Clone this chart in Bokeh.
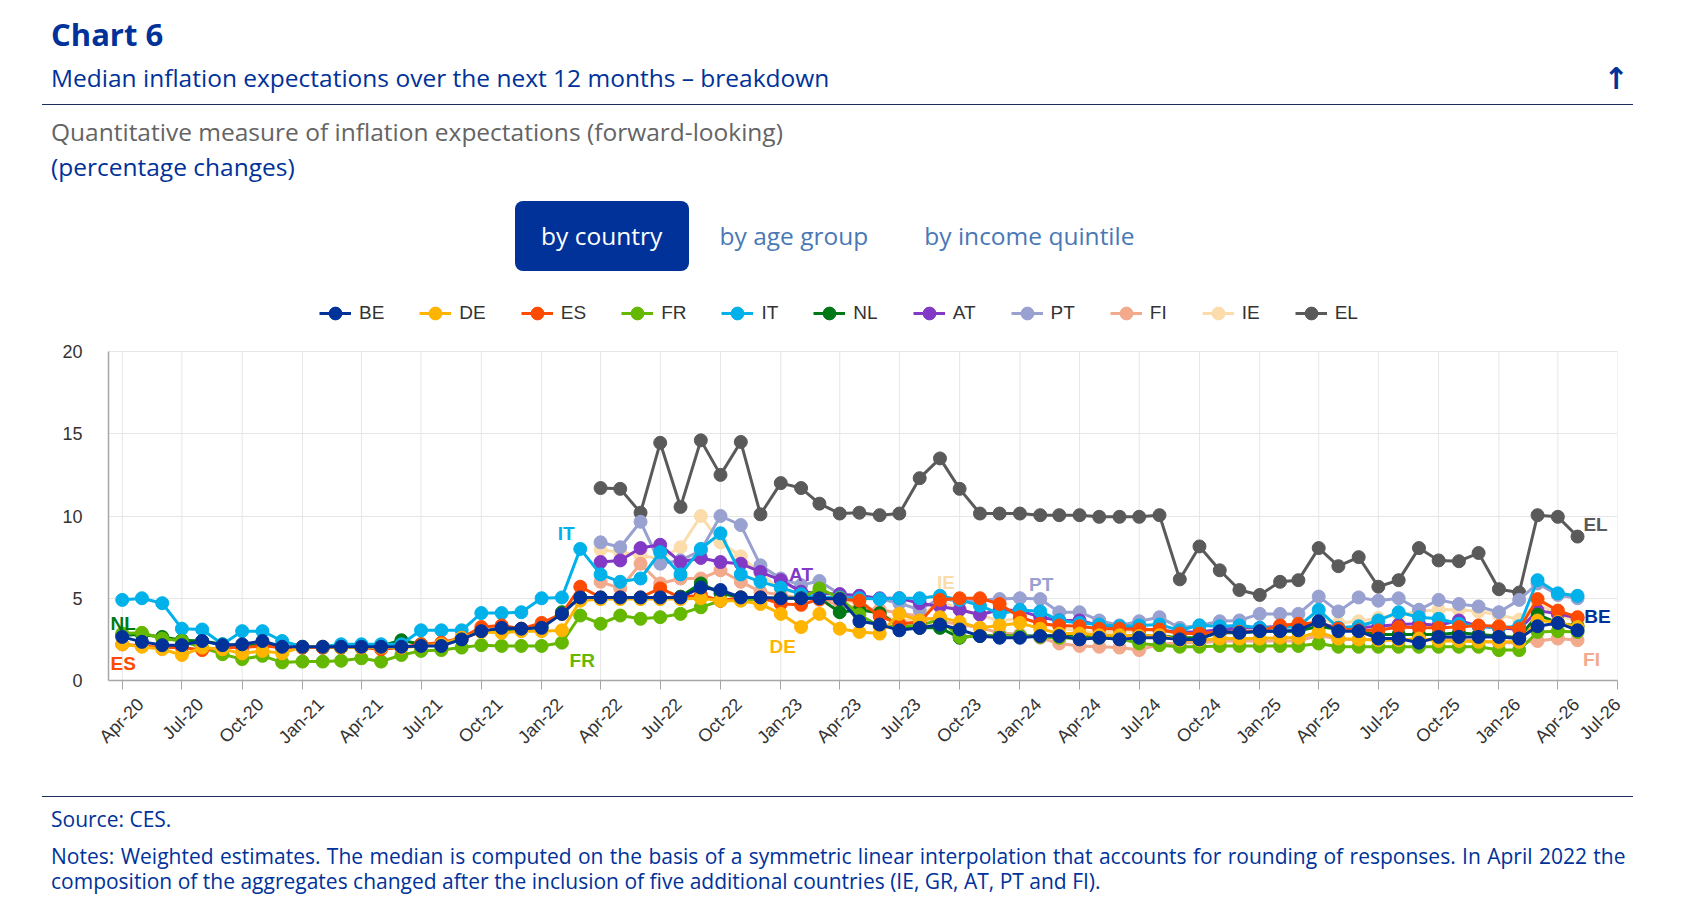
import math
import html
import pandas as pd
from bokeh.plotting import figure
from bokeh.layouts import column
from bokeh.models import (Label, Legend, LegendItem, FixedTicker, Range1d, Div,
                          CustomJSTickFormatter, DatetimeAxis, DatetimeTickFormatter)
from bokeh.embed import file_html
from bokeh.resources import INLINE

# ---------------- data ----------------
COUNTRIES = ["BE", "DE", "ES", "FR", "IT", "NL", "AT", "PT", "FI", "IE", "EL"]
COLORS = ["#003299", "#ffb400", "#ff4b00", "#65b800", "#00b1ea", "#007816",
          "#8139c6", "#98a1d0", "#f3a98b", "#fbdcaa", "#5a5a5a"]

FIRST_MONTH = "2020-04-01"   # BE, DE, ES, FR, IT, NL
ADDED_MONTH = "2022-04-01"   # AT, PT, FI, IE, EL

BE = [2.65, 2.35, 2.15, 2.15, 2.4, 2.15, 2.2, 2.4, 2.05, 2.05,
      2.05, 2.05, 2.05, 2.05, 2.05, 2.1, 2.1, 2.5, 3.0, 3.2,
      3.15, 3.2, 4.05, 5.05, 5.05, 5.05, 5.05, 5.05, 5.05, 5.65,
      5.5, 5.05, 5.05, 5.0, 5.0, 5.0, 4.95, 3.6, 3.4, 3.05,
      3.2, 3.4, 3.1, 2.7, 2.6, 2.6, 2.7, 2.7, 2.5, 2.6,
      2.5, 2.6, 2.6, 2.5, 2.5, 3.0, 2.9, 3.0, 3.0, 3.05,
      3.6, 3.0, 3.0, 2.55, 2.55, 2.3, 2.65, 2.65, 2.65, 2.65,
      2.55, 3.3, 3.5, 3.05]
DE = [2.2, 2.05, 1.9, 1.55, 2.0, 1.9, 1.65, 1.8, 1.65, 2.05,
      2.05, 2.0, 2.0, 2.0, 2.0, 2.1, 2.2, 2.6, 2.95, 2.9,
      3.0, 3.0, 3.05, 4.85, 4.95, 4.95, 4.95, 4.95, 4.95, 5.0,
      4.85, 4.85, 4.65, 4.05, 3.25, 4.05, 3.15, 2.95, 2.85, 4.05,
      3.65, 3.85, 3.55, 3.2, 3.35, 3.5, 3.15, 2.85, 2.85, 2.75,
      2.75, 2.7, 2.75, 2.45, 2.45, 2.55, 2.55, 2.55, 2.6, 2.6,
      2.95, 2.55, 2.5, 2.45, 2.45, 2.55, 2.4, 2.4, 2.35, 2.35,
      2.35, 3.65, 3.55, 3.25]
ES = [2.2, 2.1, 2.0, 2.0, 1.85, 2.0, 2.0, 2.1, 2.0, 2.0,
      2.0, 2.0, 2.0, 1.9, 2.0, 2.2, 2.3, 2.6, 3.25, 3.35,
      3.15, 3.5, 4.05, 5.7, 5.05, 5.05, 5.05, 5.6, 5.05, 5.2,
      4.85, 5.05, 5.05, 4.65, 4.6, 4.95, 4.95, 4.85, 3.9, 3.45,
      3.55, 4.9, 5.0, 5.0, 4.65, 3.85, 3.45, 3.35, 3.3, 3.15,
      3.15, 3.1, 3.1, 2.85, 2.85, 2.95, 2.95, 3.0, 3.35, 3.45,
      3.5, 3.15, 3.05, 3.05, 3.25, 3.2, 3.2, 3.25, 3.35, 3.3,
      3.15, 4.95, 4.25, 3.85]
FR = [2.85, 2.9, 2.55, 2.4, 2.0, 1.6, 1.3, 1.5, 1.1, 1.15,
      1.15, 1.2, 1.35, 1.15, 1.55, 1.8, 1.85, 2.0, 2.15, 2.1,
      2.1, 2.1, 2.3, 3.95, 3.45, 3.95, 3.75, 3.85, 4.05, 4.45,
      4.85, 4.9, 4.95, 5.0, 5.0, 5.6, 5.0, 4.0, 3.3, 3.3,
      3.35, 3.7, 2.65, 2.7, 2.7, 2.7, 2.65, 2.6, 2.55, 2.6,
      2.55, 2.25, 2.15, 2.05, 2.05, 2.1, 2.1, 2.1, 2.1, 2.1,
      2.25, 2.05, 2.05, 2.05, 2.05, 2.05, 2.05, 2.05, 2.05, 1.85,
      1.85, 2.95, 3.0, 2.95]
IT = [4.9, 5.0, 4.7, 3.15, 3.1, 2.2, 3.0, 3.0, 2.4, 2.05,
      2.05, 2.2, 2.2, 2.2, 2.2, 3.05, 3.05, 3.05, 4.1, 4.1,
      4.15, 5.0, 5.05, 8.0, 6.45, 6.0, 6.2, 7.8, 6.45, 8.0,
      8.95, 6.45, 6.0, 5.65, 5.25, 5.05, 5.05, 5.0, 4.95, 5.0,
      5.0, 5.15, 4.9, 4.55, 4.05, 4.3, 4.2, 3.65, 3.5, 3.4,
      3.3, 3.35, 3.4, 3.05, 3.35, 3.3, 3.35, 3.2, 3.2, 3.3,
      4.3, 3.2, 3.3, 3.65, 4.15, 3.85, 3.75, 3.45, 3.3, 3.2,
      3.3, 6.1, 5.3, 5.15]
NL = [2.75, 2.8, 2.65, 2.45, 2.4, 2.2, 2.1, 2.2, 2.0, 2.0,
      2.0, 2.0, 2.0, 2.1, 2.45, 2.2, 2.2, 2.55, 3.0, 3.1,
      3.1, 3.3, 4.15, 5.05, 5.0, 5.0, 5.0, 5.0, 5.1, 5.9,
      5.3, 5.05, 5.0, 5.0, 5.0, 5.0, 4.15, 4.3, 4.1, 3.3,
      3.2, 3.2, 2.6, 2.75, 2.7, 2.7, 2.7, 2.75, 2.75, 2.7,
      2.7, 2.75, 2.7, 2.6, 2.6, 2.9, 2.9, 3.0, 3.0, 3.0,
      3.3, 3.1, 3.0, 2.8, 2.8, 2.8, 2.8, 2.9, 2.8, 2.7,
      2.6, 4.0, 3.5, 3.3]
AT = [7.2, 7.3, 8.05, 8.25, 7.2, 7.45, 7.2, 7.1, 6.6, 6.1,
      5.4, 5.3, 5.25, 5.15, 5.0, 5.0, 4.7, 4.5, 4.3, 4.0,
      4.3, 4.25, 3.85, 3.65, 3.65, 3.35, 3.25, 3.15, 3.05, 2.95,
      2.95, 3.1, 3.2, 3.2, 3.3, 3.3, 3.5, 3.2, 3.2, 3.3,
      3.4, 3.45, 3.35, 3.65, 3.3, 3.2, 3.1, 4.25, 4.05, 3.8]
PT = [8.4, 8.1, 9.65, 7.1, 7.3, 7.9, 10.0, 9.45, 7.0, 6.2,
      5.8, 6.05, 5.25, 5.15, 4.95, 4.7, 4.3, 5.0, 4.8, 4.9,
      4.95, 5.0, 4.95, 4.15, 4.15, 3.65, 3.35, 3.6, 3.85, 3.2,
      3.35, 3.6, 3.65, 4.05, 4.05, 4.05, 5.1, 4.2, 5.05, 4.85,
      5.0, 4.3, 4.9, 4.65, 4.5, 4.15, 4.9, 5.9, 5.2, 5.0]
FI = [6.0, 5.6, 7.1, 5.9, 6.2, 6.2, 6.7, 6.0, 5.4, 5.2,
      5.0, 4.9, 4.6, 4.4, 4.3, 4.1, 3.9, 3.6, 3.4, 3.2,
      2.9, 2.8, 2.6, 2.25, 2.1, 2.05, 2.0, 1.85, 2.2, 2.3,
      2.3, 2.4, 2.4, 2.4, 2.4, 2.4, 2.75, 2.5, 2.5, 2.5,
      2.5, 2.5, 2.5, 2.5, 2.4, 2.3, 2.3, 2.4, 2.55, 2.45]
IE = [7.95, 7.8, 7.6, 7.4, 8.1, 10.0, 8.4, 7.55, 6.5, 5.5,
      5.3, 5.1, 5.0, 4.6, 4.0, 3.6, 3.8, 4.9, 4.3, 4.0,
      3.6, 3.8, 3.5, 3.2, 3.0, 2.9, 3.0, 3.0, 3.1, 2.8,
      2.9, 3.0, 3.0, 3.1, 3.2, 3.3, 3.7, 3.5, 3.6, 3.8,
      4.0, 4.2, 4.3, 4.3, 4.2, 4.0, 3.7, 4.7, 4.0, 3.6]
EL = [11.7, 11.65, 10.2, 14.45, 10.55, 14.6, 12.5, 14.5, 10.1, 12.0,
      11.7, 10.75, 10.15, 10.2, 10.05, 10.15, 12.3, 13.5, 11.65, 10.15,
      10.15, 10.15, 10.05, 10.05, 10.05, 9.95, 9.95, 9.95, 10.05, 6.15,
      8.15, 6.7, 5.5, 5.2, 6.0, 6.1, 8.05, 6.95, 7.5, 5.7,
      6.1, 8.05, 7.3, 7.25, 7.75, 5.55, 5.35, 10.05, 9.95, 8.75]

SERIES = {"BE": BE, "DE": DE, "ES": ES, "FR": FR, "IT": IT, "NL": NL,
          "AT": AT, "PT": PT, "FI": FI, "IE": IE, "EL": EL}
STARTS = {c: (FIRST_MONTH if c in ("BE", "DE", "ES", "FR", "IT", "NL") else ADDED_MONTH)
          for c in COUNTRIES}

TICK_LABELS = ["Apr-20", "Jul-20", "Oct-20", "Jan-21", "Apr-21", "Jul-21", "Oct-21",
               "Jan-22", "Apr-22", "Jul-22", "Oct-22", "Jan-23", "Apr-23", "Jul-23",
               "Oct-23", "Jan-24", "Apr-24", "Jul-24", "Oct-24", "Jan-25", "Apr-25",
               "Jul-25", "Oct-25", "Jan-26", "Apr-26", "Jul-26"]
Y_TICKS = [0, 5, 10, 15, 20]

# in-chart series labels: (series, month, dx px, dy px down)
SERIES_LABELS = [("NL", "2020-04-01", 1, -12), ("ES", "2020-04-01", 1, 19),
                 ("IT", "2022-03-01", -14, -15), ("FR", "2022-03-01", 2, 45),
                 ("DE", "2023-01-01", 2, 33), ("AT", "2023-02-01", 0, -17),
                 ("IE", "2023-09-01", 6, -17), ("PT", "2024-02-01", 1, -15),
                 ("EL", "2026-05-01", 18, -12), ("BE", "2026-05-01", 20, -14),
                 ("FI", "2026-05-01", 14, 19)]

TITLE = "Chart 6"
SUBTITLE = "Median inflation expectations over the next 12 months \u2013 breakdown"
MEASURE = "Quantitative measure of inflation expectations (forward-looking)"
UNIT = "(percentage changes)"
TABS = ["by country", "by age group", "by income quintile"]
SOURCE = "Source: CES."
NOTES = ["Notes: Weighted estimates. The median is computed on the basis of a symmetric linear "
         "interpolation that accounts for rounding of responses. In April 2022 the",
         "composition of the aggregates changed after the inclusion of five additional "
         "countries (IE, GR, AT, PT and FI)."]

# ---------------- geometry (page px) ----------------
W = 1690
HEAD_H = 296                       # page 0 .. 296
FRAME_TOP, FRAME_BOTTOM = 296, 680
BOT_B = 80
CHART_H = (FRAME_BOTTOM - FRAME_TOP) + BOT_B   # page 296 .. 760
FOOT_H = 156                       # page 760 .. 916
FL, FR_EDGE = 108, 1617
BLUE = "#003299"
TAB_BLUE = "#4a78b5"
GREY_TXT = "#333333"
PX_PER_UNIT = (FRAME_BOTTOM - 351) / 20.0


def ms(t):
    return pd.Timestamp(t).value / 1e6


X0, X1 = ms("2020-03-11"), ms("2026-07-01")


# ---------------- HTML header / footer ----------------
def span(t, left, baseline, size, color, weight="normal", font="'Open Sans'",
         asc=0.888, width=None, align="left", extra=""):
    top = baseline - asc * size
    st = (f"position:absolute;left:{left}px;top:{top:.1f}px;font-family:{font};"
          f"font-size:{size}px;line-height:{size}px;font-weight:{weight};color:{color};"
          f"white-space:nowrap;{extra}")
    if width is not None:
        st += f"width:{width}px;text-align:{align};"
    return f'<span style="{st}">{html.escape(t)}</span>'


def rect(left, top, width, height, color, radius=0):
    return (f'<div style="position:absolute;left:{left}px;top:{top}px;width:{width}px;'
            f'height:{height}px;background:{color};border-radius:{radius}px;"></div>')


def panel(parts, height):
    body = "".join(parts)
    return Div(text=f'<div style="position:relative;width:{W}px;height:{height}px;'
                    f'overflow:hidden;">{body}</div>',
               width=W, height=height, margin=(0, 0, 0, 0))


head = panel([
    span(TITLE, 51, 46.7, 31, BLUE, weight="bold"),
    span(SUBTITLE, 51, 87.3, 24.5, BLUE),
    span("\u2191", 1566, 89, 30, BLUE, weight="bold", font="'DejaVu Sans'", asc=0.846,
         width=100, align="center"),
    rect(42, 103.5, 1591, 1.5, "#1d2d5c"),
    span(MEASURE, 51, 142, 24.5, "#646464"),
    span(UNIT, 51, 176.7, 24.5, BLUE),
    rect(515, 201, 173.5, 69.5, BLUE, radius=8),
    span(TABS[0], 501.7, 246, 24.5, "white", width=200, align="center"),
    span(TABS[1], 719.5, 246, 24.5, TAB_BLUE),
    span(TABS[2], 924.3, 246, 24.5, TAB_BLUE),
], HEAD_H)

FT = FRAME_TOP + CHART_H
foot = panel([
    rect(42, 795.5 - FT, 1591, 1.5, "#1d2d5c"),
    span(SOURCE, 51, 828 - FT, 21, BLUE),
    span(NOTES[0], 51, 864.5 - FT, 21, BLUE, extra="word-spacing:0.95px;"),
    span(NOTES[1], 51, 889.5 - FT, 21, BLUE),
], FOOT_H)

# ---------------- chart ----------------
p = figure(width=W, height=CHART_H, x_axis_type="datetime",
           x_range=Range1d(X0, X1),
           y_range=Range1d(0, (FRAME_BOTTOM - FRAME_TOP) / PX_PER_UNIT),
           output_backend="svg", toolbar_location=None,
           min_border_left=FL, min_border_right=W - FR_EDGE,
           min_border_top=0, min_border_bottom=BOT_B, margin=(0, 0, 0, 0))
p.outline_line_color = None
p.background_fill_color = "white"
p.border_fill_color = "white"

tick_dates = [pd.to_datetime(t, format="%b-%y") for t in TICK_LABELS]
tick_ms = [ms(t) for t in tick_dates]

main_ax = p.xaxis[0]
main_ax.ticker = FixedTicker(ticks=tick_ms)
main_ax.formatter = CustomJSTickFormatter(code="return ''")
main_ax.major_label_text_font_size = "0px"
main_ax.major_label_standoff = 0
main_ax.major_tick_out = 9
main_ax.major_tick_in = 0
main_ax.minor_tick_line_color = None
main_ax.axis_line_color = "#a6a6a6"
main_ax.major_tick_line_color = "#a6a6a6"
main_ax.axis_line_width = 1.5

# tick-label axis: labels are right-anchored by Bokeh, so its ticks sit a few days
# after each quarter so the slanted label is centred under the real tick
label_ticks = [ms(t + pd.Timedelta(days=28)) for t in tick_dates[:-1]] + [tick_ms[-1]]
lab_ax = DatetimeAxis(ticker=FixedTicker(ticks=label_ticks),
                      formatter=DatetimeTickFormatter(days="%b-%y", months="%b-%y",
                                                      years="%b-%y"),
                      major_label_orientation=math.pi / 4,
                      major_label_standoff=12,
                      major_label_text_font="Liberation Sans",
                      major_label_text_font_size="18px",
                      major_label_text_color=GREY_TXT,
                      axis_line_color=None, major_tick_line_color=None,
                      minor_tick_line_color=None, major_tick_out=0, major_tick_in=0)
p.add_layout(lab_ax, "below")

p.yaxis.ticker = FixedTicker(ticks=Y_TICKS)
p.yaxis.bounds = (0, 20)
p.yaxis.major_tick_out = 0
p.yaxis.major_tick_in = 0
p.yaxis.minor_tick_line_color = None
p.yaxis.axis_line_color = "#a6a6a6"
p.yaxis.axis_line_width = 1.5
p.yaxis.major_label_standoff = 26
p.yaxis.major_label_text_font = "Liberation Sans"
p.yaxis.major_label_text_font_size = "18px"
p.yaxis.major_label_text_color = GREY_TXT

p.xgrid.visible = False
p.ygrid.grid_line_color = "#e6e6e6"
p.ygrid.ticker = FixedTicker(ticks=Y_TICKS)
# vertical grid lines only across the 0-20 value band
p.segment(x0=tick_dates, y0=[0] * len(tick_dates), x1=tick_dates, y1=[20] * len(tick_dates),
          line_color="#e6e6e6", line_width=1, level="underlay")

renderers = {}
for name, col in reversed(list(zip(COUNTRIES, COLORS))):
    vals = SERIES[name]
    dates = pd.date_range(STARTS[name], periods=len(vals), freq="MS")
    ln = p.line(dates, vals, line_color=col, line_width=3)
    pts = p.scatter(dates, vals, size=13, fill_color=col, line_color=col)
    renderers[name] = [ln, pts]

legend = Legend(items=[LegendItem(label=c, renderers=renderers[c]) for c in COUNTRIES],
                orientation="horizontal", location=(319 - FL, FRAME_BOTTOM - 329),
                glyph_width=32, glyph_height=32, label_standoff=8, spacing=35,
                padding=0, margin=0, label_width=0, label_height=32,
                label_text_font="Liberation Sans", label_text_font_size="19px",
                label_text_color=GREY_TXT,
                background_fill_alpha=0, border_line_alpha=0)
p.add_layout(legend)

color_of = dict(zip(COUNTRIES, COLORS))
for name, month, dx, dy in SERIES_LABELS:
    vals = SERIES[name]
    dates = list(pd.date_range(STARTS[name], periods=len(vals), freq="MS"))
    i = dates.index(pd.Timestamp(month))
    p.add_layout(Label(x=ms(dates[i]), y=vals[i], x_offset=dx, y_offset=-dy,
                       text=name, text_align="center", text_baseline="middle",
                       text_font="Liberation Sans", text_font_style="bold",
                       text_font_size="19px", text_color=color_of[name]))

layout = column(head, p, foot, spacing=0, margin=(0, 0, 0, 0))
open("out.html", "w").write(file_html(layout, INLINE))
